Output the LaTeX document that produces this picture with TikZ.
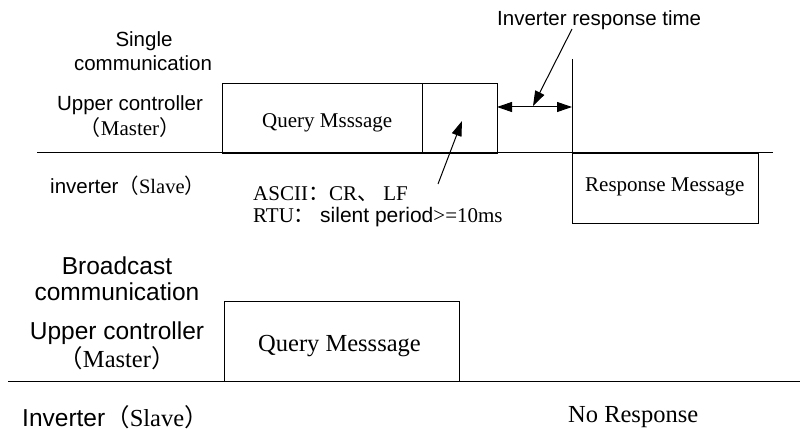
\documentclass[tikz,border=0pt]{standalone}
\usepackage{fontspec}
\setmainfont{Liberation Serif}
\setsansfont{Liberation Sans}
\newfontfamily\cjkfont{Noto Sans CJK SC}
\usetikzlibrary{arrows.meta}
\newcommand{\fwlp}{{\cjkfont （}}
\newcommand{\fwrp}{{\cjkfont ）}}
\newcommand{\fwco}{\smash{\cjkfont ：}}
\newcommand{\fwcm}{\smash{\cjkfont 、}}
\begin{document}
\begin{tikzpicture}[x=1pt,y=-1pt,
  lbl/.style={inner sep=0pt,anchor=base},
  lblw/.style={inner sep=0pt,anchor=base west},
  sA/.style={font=\sffamily\fontsize{20.5}{24}\selectfont},
  rA/.style={font=\rmfamily\fontsize{21}{24}\selectfont},
  sB/.style={font=\sffamily\fontsize{24.5}{28}\selectfont},
  rB/.style={font=\rmfamily\fontsize{24.5}{28}\selectfont},
  boxshape/.style={draw,line width=1pt,inner sep=0pt,anchor=north west},
  wire/.style={line width=1pt},
  tip/.style={-{Triangle[length=15pt,width=10pt]},line width=1pt},
  dtip/.style={{Triangle[length=15pt,width=10pt]}-{Triangle[length=15pt,width=10pt]},line width=1pt}
]
\useasboundingbox (0,0) rectangle (800,430);

% ---------- Single communication ----------
\node[lbl,sA] (single) at (144,47) {Single};
\node[lbl,sA] (comm1) at (143,71) {communication};
\node[lbl,sA] (upper1) at (130,111) {Upper controller};
\node[lbl,rA] (master1) at (130,136) {\fwlp Master\fwrp};
\node[lblw,sA] (slave1) at (50,194) {inverter\rmfamily\fwlp Slave\fwrp};

\coordinate (base1l) at (37,153);
\coordinate (base1r) at (773,153);
\draw[wire] (base1l) -- (base1r);

\node[boxshape,minimum width=200pt,minimum height=70pt] (query1) at (222,83) {};
\node[boxshape,minimum width=75pt,minimum height=70pt] (term1) at (422,83) {};
\node[lblw,rA] (querytxt1) at (262,128) {Query Msssage};

\coordinate (vtop) at (572,59);
\coordinate (vbot) at (572,223);
\draw[wire] (vtop) -- (vbot);
\node[boxshape,minimum width=186pt,minimum height=70pt] (resp1) at (572,153) {};
\node[lblw,rA] (resptxt1) at (585,192) {Response Message};

\coordinate (ra) at (497,107);
\coordinate (rb) at (572,107);
\draw[dtip] (ra) -- (rb);

\node[lblw,sA] (irt) at (497,26) {Inverter response time};
\coordinate (irtfrom) at (572,29);
\coordinate (irtto) at (533,106);
\draw[tip] (irtfrom) -- (irtto);

\node[lblw,rA] (ascii) at (253,201) {ASCII\fwco CR\fwcm\ LF};
\node[lblw,rA] (rtu) at (253,223) {RTU\fwco\ \sffamily silent period\rmfamily>=10ms};
\coordinate (afrom) at (438,184);
\coordinate (ato) at (462,121);
\draw[tip] (afrom) -- (ato);

% ---------- Broadcast communication ----------
\node[lbl,sB] (bcast) at (117,274) {Broadcast};
\node[lbl,sB] (comm2) at (117,301) {communication};
\node[lbl,sB] (upper2) at (117,339) {Upper controller};
\node[lbl,rB] (master2) at (117,367) {\fwlp Master\fwrp};
\node[lblw,sB] (slave2) at (22,426) {Inverter\rmfamily\smash{\fwlp}Slave\smash{\fwrp}};

\coordinate (base2l) at (8,381);
\coordinate (base2r) at (800,381);
\draw[wire] (base2l) -- (base2r);

\node[boxshape,minimum width=235pt,minimum height=80pt] (query2) at (224,301) {};
\node[lblw,rB] (querytxt2) at (258,351) {Query Messsage};
\node[lblw,rB] (noresp) at (568,422) {No Response};
\end{tikzpicture}
\end{document}
